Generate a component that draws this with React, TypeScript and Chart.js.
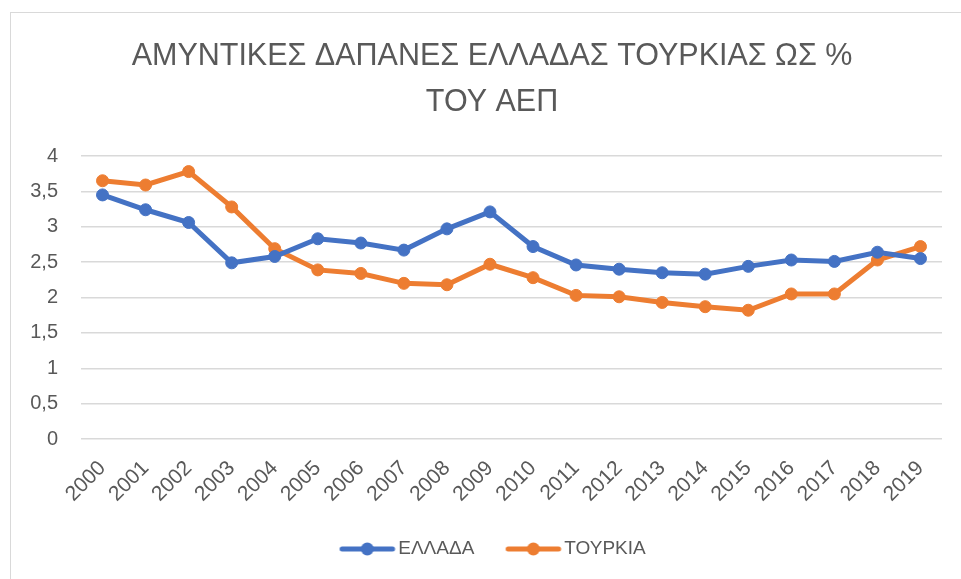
import React, { useEffect, useRef } from "react";
import { Chart, registerables } from "chart.js";

Chart.register(...registerables);

const years = ["2000","2001","2002","2003","2004","2005","2006","2007","2008","2009","2010","2011","2012","2013","2014","2015","2016","2017","2018","2019"];
const greece = [3.45,3.24,3.06,2.49,2.58,2.83,2.77,2.67,2.97,3.21,2.72,2.46,2.40,2.35,2.33,2.44,2.53,2.51,2.64,2.55];
const turkey = [3.65,3.59,3.78,3.28,2.69,2.39,2.34,2.20,2.18,2.47,2.28,2.03,2.01,1.93,1.87,1.82,2.05,2.05,2.53,2.72];
const seriesNames = ["ΕΛΛΑΔΑ", "ΤΟΥΡΚΙΑ"];
const titleLines = ["ΑΜΥΝΤΙΚΕΣ ΔΑΠΑΝΕΣ ΕΛΛΑΔΑΣ ΤΟΥΡΚΙΑΣ ΩΣ %", "ΤΟΥ ΑΕΠ"];

const BLUE = "#4472C4";
const ORANGE = "#ED7D31";
const TEXT = "#595959";
const FONT = "'Liberation Sans', Arial, sans-serif";

function legendImage(color: string): HTMLCanvasElement {
  const c = document.createElement("canvas");
  c.width = 80;
  c.height = 14;
  const ctx = c.getContext("2d")!;
  const x0 = 18.5, x1 = 69, cy = 7;
  ctx.strokeStyle = color;
  ctx.lineWidth = 5;
  ctx.lineCap = "round";
  ctx.beginPath();
  ctx.moveTo(x0, cy);
  ctx.lineTo(x1, cy);
  ctx.stroke();
  ctx.fillStyle = color;
  ctx.beginPath();
  ctx.arc((x0 + x1) / 2, cy, 6.5, 0, Math.PI * 2);
  ctx.fill();
  return c;
}

export default function App() {
  const ref = useRef<HTMLCanvasElement | null>(null);

  useEffect(() => {
    if (!ref.current) return;
    const imgs = [legendImage(BLUE), legendImage(ORANGE)];
    const chart = new Chart(ref.current, {
      type: "line",
      data: {
        labels: years,
        datasets: [
          {
            label: seriesNames[0],
            data: greece,
            borderColor: BLUE,
            backgroundColor: BLUE,
            borderWidth: 5,
            pointRadius: 6,
            pointBorderWidth: 1,
            pointBackgroundColor: BLUE,
            pointBorderColor: BLUE,
            tension: 0,
            yAxisID: "y",
          },
          {
            label: seriesNames[1],
            data: turkey,
            borderColor: ORANGE,
            backgroundColor: ORANGE,
            borderWidth: 5,
            pointRadius: 6,
            pointBorderWidth: 1,
            pointBackgroundColor: ORANGE,
            pointBorderColor: ORANGE,
            tension: 0,
            yAxisID: "y",
          },
        ],
      },
      options: {
        animation: false,
        responsive: false,
        maintainAspectRatio: false,
        layout: { padding: { left: 0, right: 0, top: 0, bottom: 10.5 } },
        plugins: {
          title: {
            display: true,
            text: titleLines,
            color: TEXT,
            font: { family: FONT, size: 30.5, weight: "normal", lineHeight: 46 / 30.5 },
            padding: { top: 34, bottom: 30 },
          },
          legend: {
            position: "bottom",
            labels: {
              usePointStyle: true,
              pointStyleWidth: 50.5,
              padding: 30,
              color: TEXT,
              font: { family: FONT, size: 19 },
              generateLabels: (ch: any) => {
                const items = (Chart.defaults.plugins.legend.labels as any).generateLabels(ch);
                items.forEach((it: any, i: number) => {
                  it.pointStyle = imgs[i];
                });
                return items;
              },
            },
          },
          tooltip: { enabled: false },
        },
        scales: {
          x: {
            offset: true,
            grid: { display: false, offset: true, drawTicks: false },
            border: { display: false },
            ticks: {
              color: TEXT,
              font: { family: FONT, size: 21 },
              maxRotation: 45,
              minRotation: 45,
              padding: 17,
              autoSkip: false,
            },
            afterFit: (s: any) => {
              s.height = 70.5;
            },
          },
          y: {
            position: "left",
            min: 0,
            max: 4,
            grid: { color: "#d9d9d9", lineWidth: 1.5, drawTicks: false },
            border: { display: false },
            ticks: {
              stepSize: 0.5,
              color: TEXT,
              font: { family: FONT, size: 20 },
              padding: 23,
              callback: (v: any) => String(v).replace(".", ","),
            },
            afterFit: (s: any) => {
              s.width = 81;
            },
          },
          spacer: {
            type: "linear",
            position: "right",
            display: true,
            grid: { display: false, drawTicks: false },
            border: { display: false },
            ticks: { display: false },
            afterFit: (s: any) => {
              s.width = 42;
            },
          },
        },
      },
    });
    return () => chart.destroy();
  }, []);

  return (
    <div style={{ position: "fixed", left: 0, top: 0, width: 961, height: 579, overflow: "hidden", background: "#fff" }}>
      <canvas ref={ref} width={984} height={579} style={{ display: "block" }} />
      <div
        style={{
          position: "absolute",
          left: 10,
          top: 12,
          width: 980,
          height: 600,
          border: "1.5px solid #d9d9d9",
          pointerEvents: "none",
        }}
      />
    </div>
  );
}
